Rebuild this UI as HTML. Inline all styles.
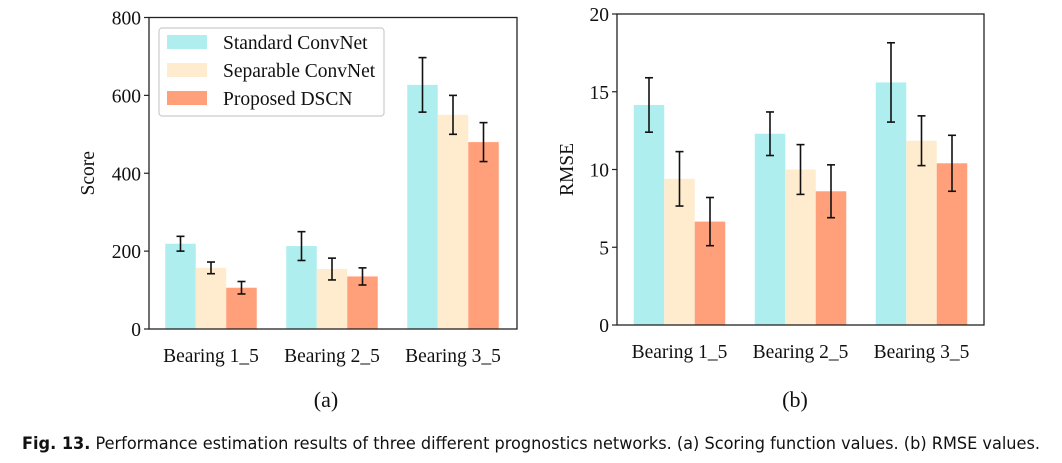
<!DOCTYPE html>
<html><head><meta charset="utf-8"><style>
html,body{margin:0;padding:0;background:#fff;width:1062px;height:463px;overflow:hidden}
svg text{font-family:"Liberation Serif",serif;fill:#111}
</style></head><body>
<svg id="fig" width="1062" height="463" xmlns="http://www.w3.org/2000/svg">
<text x="326" y="407" font-size="22" text-anchor="middle">(a)</text>
<text x="795" y="407" font-size="22" text-anchor="middle">(b)</text>
<text x="22" y="449" font-size="16.5" style="font-family:'DejaVu Sans Condensed','Liberation Sans',sans-serif" textLength="1018" lengthAdjust="spacingAndGlyphs"><tspan font-weight="bold">Fig. 13.</tspan> Performance estimation results of three different prognostics networks. (a) Scoring function values. (b) RMSE values.</text>
</svg>
<script>
const categories = ["Bearing 1_5","Bearing 2_5","Bearing 3_5"];
const seriesNames = ["Standard ConvNet","Separable ConvNet","Proposed DSCN"];
const scoreStandard = [219,213,627];
const scoreSeparable = [157,154,550];
const scoreDSCN = [106,135,480];
const scoreErrStandard = [19,37,70];
const scoreErrSeparable = [15,28,50];
const scoreErrDSCN = [16,22,50];
const rmseStandard = [14.15,12.3,15.6];
const rmseSeparable = [9.4,10.0,11.85];
const rmseDSCN = [6.65,8.6,10.4];
const rmseErrStandard = [1.75,1.4,2.55];
const rmseErrSeparable = [1.75,1.6,1.6];
const rmseErrDSCN = [1.55,1.7,1.8];
const scoreTicks = [0,200,400,600,800];
const rmseTicks = [0,5,10,15,20];

const colors = ["#AFEEEE","#FFEBCD","#FFA07A"];
const FS = 19.5;
const NS="http://www.w3.org/2000/svg";
const svg=document.getElementById('fig');
function mk(tag,attrs,parent){const e=document.createElementNS(NS,tag);for(const k in attrs)e.setAttribute(k,attrs[k]);(parent||svg).appendChild(e);return e;}

function panel(p){
  const g=mk('g',{});
  
  
  const y=v=>p.y0-(v-p.min)/(p.max-p.min)*(p.y0-p.y1);
  const groupW=121, barW=30.5;
  const cx=i=>p.firstCenter+i*groupW;
  const vals=[p.s1,p.s2,p.s3], errs=[p.e1,p.e2,p.e3];
  for(let s=0;s<3;s++){
    for(let i=0;i<categories.length;i++){
      const x=cx(i)+(s-1)*barW-barW/2;
      const r=mk('rect',{x:x,y:y(vals[s][i]),width:barW,height:y(p.min)-y(vals[s][i]),fill:colors[s]},g);
      
      
    }
  }
  for(let s=0;s<3;s++){
    for(let i=0;i<categories.length;i++){
      const xm=cx(i)+(s-1)*barW;
      const hi=y(vals[s][i]+errs[s][i]), lo=y(vals[s][i]-errs[s][i]);
      const eg=mk('g',{stroke:'#111','stroke-width':1.6},g);
      
      
      mk('line',{x1:xm,x2:xm,y1:hi,y2:lo},eg);
      mk('line',{x1:xm-4,x2:xm+4,y1:hi,y2:hi},eg);
      mk('line',{x1:xm-4,x2:xm+4,y1:lo,y2:lo},eg);
    }
  }
  const frame=mk('rect',{x:p.x0,y:p.y1,width:p.x1-p.x0,height:p.y0-p.y1,fill:'none',stroke:'#222','stroke-width':1.3},g);
  
  
  p.ticks.forEach(t=>{
    mk('line',{x1:p.x0-5,x2:p.x0,y1:y(t),y2:y(t),stroke:'#222','stroke-width':1.2},g);
    const tx=mk('text',{x:p.x0-8,y:y(t)+7,'font-size':FS,'text-anchor':'end'},g);
    tx.textContent=t;
    
    
  });
  categories.forEach((c,i)=>{
    const tx=mk('text',{x:cx(i),y:p.y0+33,'font-size':FS,'text-anchor':'middle'},g);
    tx.textContent=c;
    
    
  });
  const yl=mk('text',{x:0,y:0,'font-size':FS,'text-anchor':'middle',transform:`translate(${p.ylx},${(p.y0+p.y1)/2}) rotate(-90)`},g);
  yl.textContent=p.ylabel;
  
  
  return g;
}

panel({name:'score-chart',x0:149,x1:517,y0:329,y1:17.5,min:0,max:800,firstCenter:211,
  s1:scoreStandard,s2:scoreSeparable,s3:scoreDSCN,e1:scoreErrStandard,e2:scoreErrSeparable,e3:scoreErrDSCN,
  ticks:scoreTicks,ylabel:'Score',ylx:94});
panel({name:'rmse-chart',x0:617,x1:984,y0:325,y1:14,min:0,max:20,firstCenter:679.5,
  s1:rmseStandard,s2:rmseSeparable,s3:rmseDSCN,e1:rmseErrStandard,e2:rmseErrSeparable,e3:rmseErrDSCN,
  ticks:rmseTicks,ylabel:'RMSE',ylx:573});

const lg=mk('g',{});


mk('rect',{x:159,y:28,width:225,height:88,rx:3,fill:'#fff',stroke:'#ccc','stroke-width':1.2},lg);
seriesNames.forEach((n,i)=>{
  const e=mk('g',{},lg);
  
  
  mk('rect',{x:167,y:35+i*28,width:40,height:14,fill:colors[i]},e);
  const t=mk('text',{x:223,y:49+i*28,'font-size':FS},e);
  t.textContent=n;
});
</script>
</body></html>
